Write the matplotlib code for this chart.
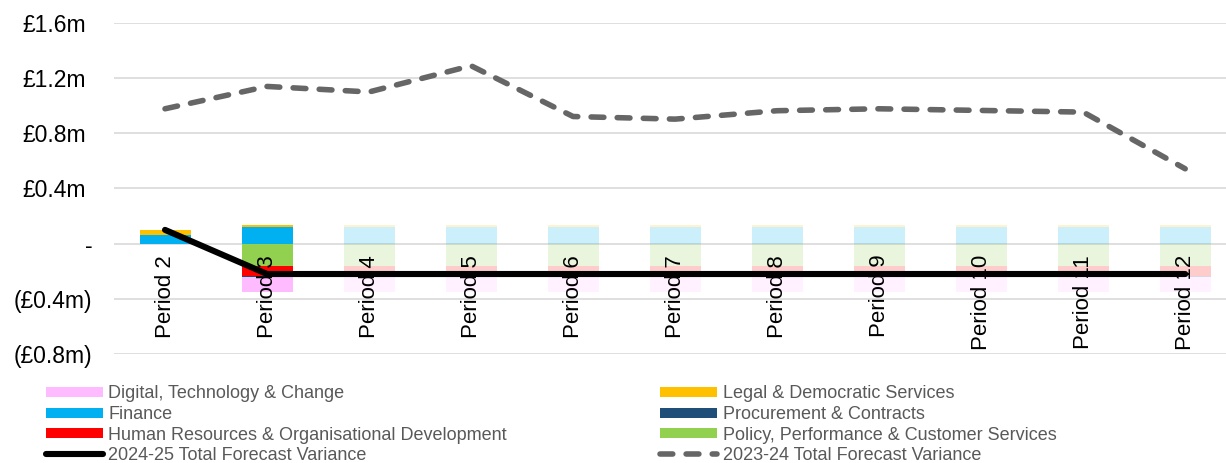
import matplotlib
matplotlib.use("Agg")
import matplotlib.pyplot as plt
import numpy as np
from matplotlib.lines import Line2D

plt.rcParams['font.family'] = ['Liberation Sans', 'DejaVu Sans']

# ---- data (£m) ----
periods = ["Period 2", "Period 3", "Period 4", "Period 5", "Period 6", "Period 7",
           "Period 8", "Period 9", "Period 10", "Period 11", "Period 12"]
# periods reported so far; later periods repeat the latest forecast and are shown faded
actual_flags = [True, True, False, False, False, False, False, False, False, False, False]

digital = [0.0] + [-0.112] * 10
legal = [0.041] + [0.020] * 10
finance = [0.060] + [0.118] * 10
procurement = [0.0] + [-0.005] * 10
hr = [0.0] + [-0.072] * 10
policy = [0.0] + [-0.164] * 10

total_2425 = [0.10] + [-0.22] * 10
total_2324 = [0.978, 1.14, 1.10, 1.29, 0.922, 0.903, 0.964, 0.978, 0.966, 0.954, 0.543]

yticks = [1.6, 1.2, 0.8, 0.4, 0.0, -0.4, -0.8]
ytick_labels = ["£1.6m", "£1.2m", "£0.8m", "£0.4m", "-", "(£0.4m)", "(£0.8m)"]

# ---- styling ----
colors = {
    "Digital, Technology & Change": "#FFBBFF",
    "Legal & Democratic Services": "#FFC000",
    "Finance": "#00B0F0",
    "Procurement & Contracts": "#1F4E79",
    "Human Resources & Organisational Development": "#FF0000",
    "Policy, Performance & Customer Services": "#92D050",
}
faded_alpha = 0.2

fig = plt.figure(figsize=(12.26, 4.63), dpi=100)
ax = fig.add_axes([114 / 1226, 1 - 354 / 463, 1 - 114 / 1226, (354 - 23) / 463])

x = np.arange(len(periods))
alphas = [1.0 if a else faded_alpha for a in actual_flags]

def stack(values_list, names):
    base = np.zeros(len(periods))
    for vals, name in zip(values_list, names):
        vals = np.asarray(vals)
        for i in range(len(periods)):
            if vals[i] != 0:
                ax.bar(x[i], vals[i], width=0.5, bottom=base[i], color=colors[name],
                       alpha=alphas[i], linewidth=0, zorder=2)
        base += vals

# positive stack: Finance then Legal; negative stack: Policy, HR, Procurement, Digital
stack([finance, legal], ["Finance", "Legal & Democratic Services"])
stack([policy, hr, procurement, digital],
      ["Policy, Performance & Customer Services",
       "Human Resources & Organisational Development",
       "Procurement & Contracts", "Digital, Technology & Change"])

# 2024-25 total forecast variance
ax.plot(x, total_2425, color="black", lw=4.4, solid_capstyle="round",
        solid_joinstyle="round", zorder=4)

# 2023-24 total forecast variance
dash_style = (0, (2.3, 2.4))
ax.plot(x, total_2324, color="#666666", lw=4.0, linestyle=dash_style,
        dash_capstyle="round", dash_joinstyle="round", zorder=3.5)

# ---- axes ----
ax.set_xlim(-0.5, 10.4)
ax.set_ylim(-0.8, 1.6)
ax.set_yticks(yticks)
ax.set_yticklabels(ytick_labels, fontsize=16.5, color="black")
ax.yaxis.grid(True, color="#D9D9D9", lw=1.2)
ax.set_axisbelow(True)
for s in ax.spines.values():
    s.set_visible(False)
ax.tick_params(axis="y", length=0)
for tick, lab in zip(ax.yaxis.get_major_ticks(), ytick_labels):
    tick.set_pad(15.5 if lab.startswith("(") or lab == "-" else 20.5)

# category labels sit just under the zero line, above the bars but below the lines
ax.spines["bottom"].set_position(("data", 0))
ax.set_xticks(x)
ax.set_xticklabels(periods, rotation=90, fontsize=16, color="black")
ax.tick_params(axis="x", length=0, pad=8)
ax.xaxis.set_zorder(3)

# ---- legend ----
def bar_handle(name):
    return Line2D([], [], color=colors[name], lw=7.2, solid_capstyle="butt")

handles = [
    bar_handle("Digital, Technology & Change"),
    bar_handle("Finance"),
    bar_handle("Human Resources & Organisational Development"),
    Line2D([], [], color="black", lw=4.4, solid_capstyle="round"),
    bar_handle("Legal & Democratic Services"),
    bar_handle("Procurement & Contracts"),
    bar_handle("Policy, Performance & Customer Services"),
    Line2D([], [], color="#666666", lw=4.0, linestyle=dash_style, dash_capstyle="round"),
]
labels = [
    "Digital, Technology & Change",
    "Finance",
    "Human Resources & Organisational Development",
    "2024-25 Total Forecast Variance",
    "Legal & Democratic Services",
    "Procurement & Contracts",
    "Policy, Performance & Customer Services",
    "2023-24 Total Forecast Variance",
]
leg = fig.legend(handles, labels, ncol=2, loc="upper left",
                 bbox_to_anchor=(46 / 1226, 1 - 385.5 / 463), frameon=False,
                 fontsize=13, labelcolor="#595959", handlelength=3.15,
                 handletextpad=0.3, columnspacing=8.5, labelspacing=0.2,
                 borderpad=0, borderaxespad=0)

fig.savefig("out.png", dpi=100)
